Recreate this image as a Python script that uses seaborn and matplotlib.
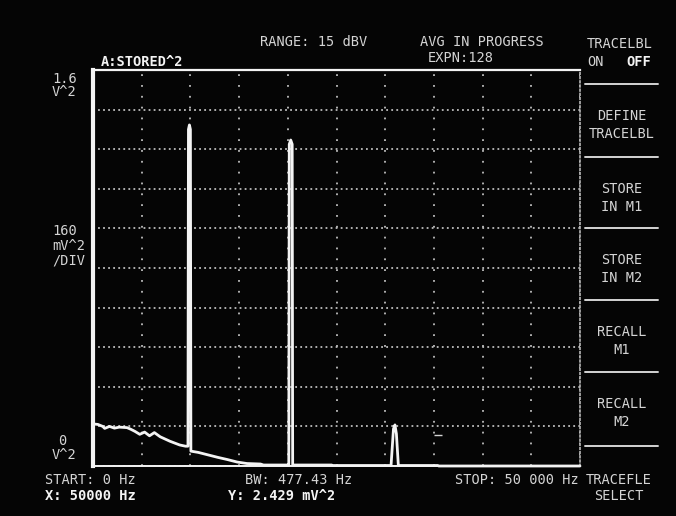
import matplotlib
matplotlib.use("Agg")
import matplotlib.pyplot as plt
import seaborn as sns
import numpy as np
import pandas as pd

freq_hz = [0, 500, 1000, 1200, 1700, 2200, 2700, 3500, 3900, 4300, 4800, 5300, 5800,
           6300, 6900, 7900, 8900, 9500,
           9750, 9800, 9900, 10000, 10050,
           10800, 11800, 12800, 13800, 14800, 15800, 17200, 17500, 20000,
           20100, 20150, 20300, 20450, 20500,
           24500, 24600, 30600, 30850, 31000, 31150, 31350, 35400, 35500, 50000]
power_v2 = [0.170, 0.168, 0.160, 0.152, 0.160, 0.153, 0.157, 0.155, 0.148, 0.140, 0.128,
            0.137, 0.122, 0.135, 0.118, 0.100, 0.085, 0.080,
            0.080, 1.36, 1.378, 1.36, 0.060,
            0.055, 0.045, 0.035, 0.026, 0.016, 0.010, 0.008, 0.004, 0.004,
            0.004, 1.30, 1.317, 1.30, 0.004,
            0.004, 0.002, 0.002, 0.150, 0.166, 0.130, 0.002, 0.002, 0.0, 0.0]

x_ticks = [5000 * i for i in range(11)]
y_ticks = [0.16 * i for i in range(11)]

top_texts = ["RANGE: 15 dBV", "AVG IN PROGRESS", "EXPN:128"]
softkeys = [("DEFINE", "TRACELBL"), ("STORE", "IN M1"), ("STORE", "IN M2"),
            ("RECALL", "M1"), ("RECALL", "M2")]

W, H = 676, 516
BG = "#050505"
FG = "#d4d4d4"
WHITE = "#f4f4f4"

sns.set_theme(style="dark")
plt.rcParams["font.family"] = ["DejaVu Sans Mono", "DejaVu Sans"]

fig = plt.figure(figsize=(W / 100, H / 100), dpi=100, facecolor=BG)
L, R, T, B = 93, 580, 70, 466
ax = fig.add_axes([L / W, 1 - B / H, (R - L) / W, (B - T) / H])
ax.set_facecolor(BG)

df = pd.DataFrame({"freq": freq_hz, "pwr": power_v2})
sns.lineplot(data=df, x="freq", y="pwr", ax=ax, color=WHITE, linewidth=2.0,
             estimator=None, sort=False, legend=False)
for ln in ax.lines:
    ln.set_clip_on(False)

ax.set_xlim(0, 50000)
ax.set_ylim(0, 1.6)
ax.set_xticks(x_ticks)
ax.set_yticks(y_ticks)
ax.tick_params(length=0, labelbottom=False, labelleft=False)
ax.set_xlabel("")
ax.set_ylabel("")
ax.xaxis.grid(True, color="#bdbdbd", linewidth=1.3, linestyle=(0, (1, 5)))
ax.yaxis.grid(True, color="#bdbdbd", linewidth=1.3, linestyle=(0, (1, 1.8)))

for side, sp in ax.spines.items():
    sp.set_visible(True)
    sp.set_color(WHITE)
ax.spines["left"].set_linewidth(3.0)
ax.spines["top"].set_linewidth(1.6)
ax.spines["bottom"].set_linewidth(1.4)
ax.spines["right"].set_linewidth(1.2)
ax.spines["right"].set_linestyle((0, (1, 1.5)))
ax.spines["right"].set_color("#b8b8b8")

# small marker seen on screen
ax.plot([35400], [0.125], marker="_", color=FG, markersize=6, clip_on=False)


def txt(x, y, s, ha="left", bold=False, size=9.8, color=FG):
    fig.text(x / W, 1 - y / H, s, ha=ha, va="center", fontsize=size,
             color=WHITE if bold else color, fontweight="bold" if bold else "normal")


# top annotations
txt(101, 62, "A:STORED^2", bold=True)
txt(260, 42, top_texts[0])
txt(420, 42, top_texts[1])
txt(428, 58, top_texts[2])
txt(587, 44, "TRACELBL")
txt(587, 62, "ON")
txt(626, 62, "OFF", bold=True)

# left axis annotations
txt(52, 79, "1.6")
txt(52, 92, "V^2")
txt(52, 231, "160")
txt(52, 246, "mV^2")
txt(52, 261, "/DIV")
txt(58, 441, "0")
txt(52, 455, "V^2")

# bottom annotations
txt(45, 480, "START: 0 Hz")
txt(45, 496, "X: 50000 Hz", bold=True)
txt(245, 480, "BW: 477.43 Hz")
txt(228, 496, "Y: 2.429 mV^2", bold=True)
txt(455, 480, "STOP: 50 000 Hz")
txt(619, 480, "TRACEFLE", ha="center")
txt(619, 496, "SELECT", ha="center")

# soft-key menu
sep_y = [84, 157, 228, 300, 372, 446]
for y in sep_y:
    fig.add_artist(plt.Line2D([585 / W, 658 / W], [1 - y / H, 1 - y / H],
                              color=FG, linewidth=1.4))
for i, (a, b) in enumerate(softkeys):
    y0 = sep_y[i]
    txt(622, y0 + 32, a, ha="center")
    txt(622, y0 + 50, b, ha="center")

fig.savefig("out.png", dpi=100, facecolor=BG)
